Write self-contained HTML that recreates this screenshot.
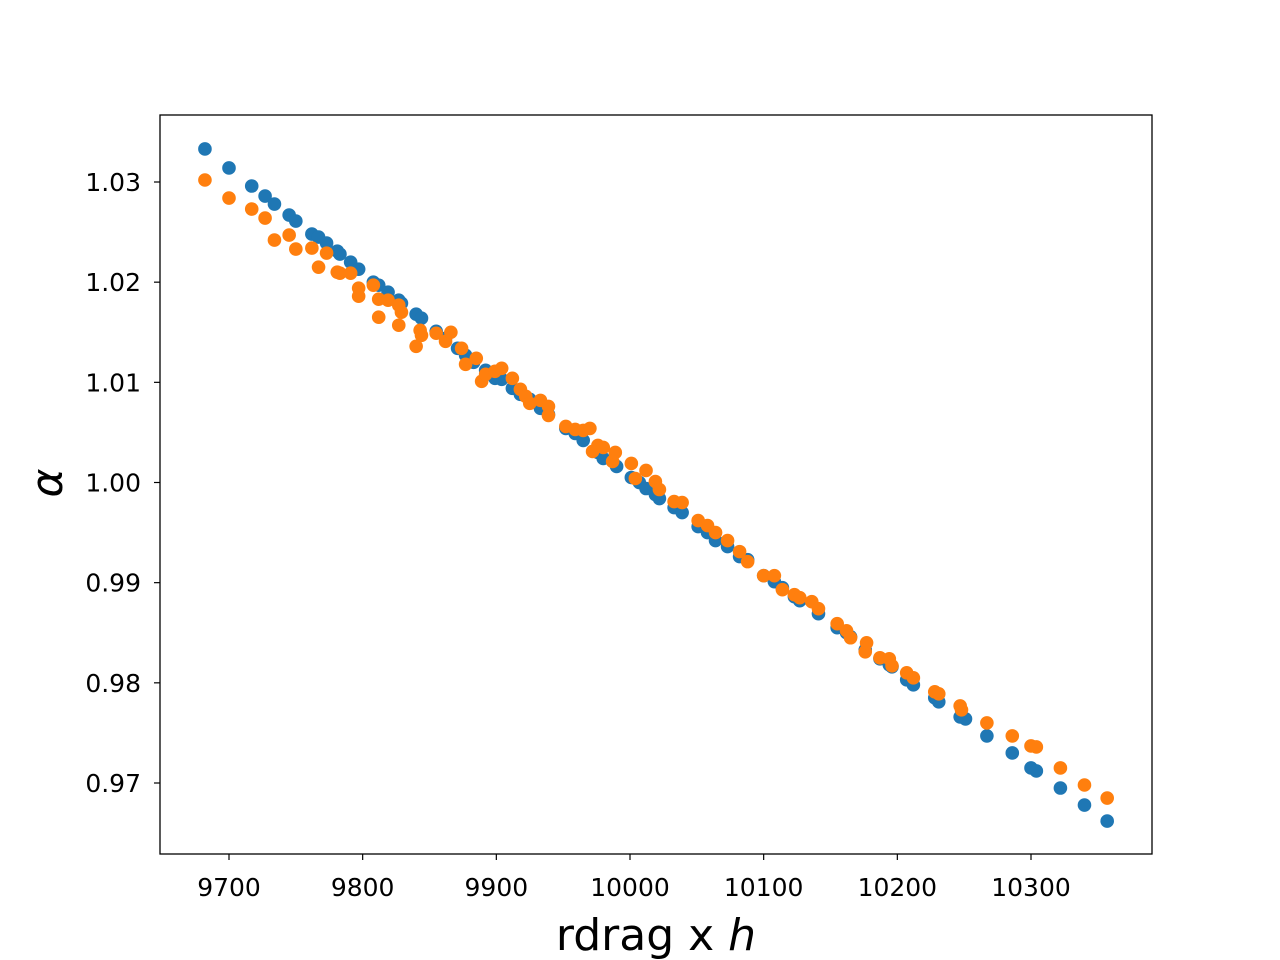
<!DOCTYPE html>
<html><head><meta charset="utf-8"><style>body{margin:0;background:#fff}svg{display:block;font-family:"DejaVu Sans","Liberation Sans",sans-serif}</style></head>
<body>
<svg id="chart" width="1280" height="960" xmlns="http://www.w3.org/2000/svg">
<rect width="1280" height="960" fill="#fff"/>
<g id="marks"></g>
<g id="axes"></g>
</svg>
<script>
const blueX=[9682,9700,9717,9727,9734,9745,9750,9762,9767,9773,9781,9783,9791,9797,9808,9812,9819,9827,9829,9840,9844,9855,9862,9871,9877,9883,9892,9899,9904,9912,9918,9925,9933,9939,9952,9959,9965,9976,9980,9990,10001,10007,10012,10019,10022,10033,10039,10051,10058,10064,10073,10082,10088,10100,10108,10114,10123,10127,10141,10155,10162,10165,10176,10187,10194,10196,10207,10212,10228,10231,10247,10251,10267,10286,10300,10304,10322,10340,10357];
const blueY=[1.0333,1.0314,1.0296,1.0286,1.0278,1.0267,1.0261,1.0248,1.0245,1.0239,1.0231,1.0228,1.0220,1.0213,1.0200,1.0197,1.0190,1.0182,1.0179,1.0168,1.0164,1.0151,1.0144,1.0134,1.0127,1.0120,1.0112,1.0104,1.0103,1.0094,1.0088,1.0083,1.0074,1.0068,1.0054,1.0049,1.0042,1.0030,1.0024,1.0016,1.0005,1.0000,0.9994,0.9988,0.9984,0.9975,0.9970,0.9956,0.9950,0.9942,0.9936,0.9926,0.9923,0.9907,0.9901,0.9895,0.9886,0.9882,0.9869,0.9855,0.9850,0.9846,0.9833,0.9824,0.9818,0.9816,0.9803,0.9798,0.9785,0.9781,0.9766,0.9764,0.9747,0.9730,0.9715,0.9712,0.9695,0.9678,0.9662];
const orangeX=[9682,9700,9717,9727,9734,9745,9750,9762,9767,9773,9781,9783,9791,9797,9797,9808,9812,9812,9819,9827,9827,9829,9840,9843,9844,9855,9862,9866,9874,9877,9885,9889,9892,9899,9904,9912,9918,9922,9925,9933,9939,9939,9952,9959,9965,9970,9976,9972,9980,9987,9989,10001,10004,10012,10019,10022,10033,10039,10051,10058,10064,10073,10082,10088,10100,10108,10114,10123,10127,10136,10141,10155,10162,10165,10176,10177,10187,10194,10196,10207,10212,10228,10231,10247,10248,10267,10286,10300,10304,10322,10340,10357];
const orangeY=[1.0302,1.0284,1.0273,1.0264,1.0242,1.0247,1.0233,1.0234,1.0215,1.0229,1.0210,1.0209,1.0209,1.0194,1.0186,1.0197,1.0183,1.0165,1.0182,1.0177,1.0157,1.0170,1.0136,1.0152,1.0147,1.0149,1.0141,1.0150,1.0134,1.0118,1.0124,1.0101,1.0108,1.0111,1.0114,1.0104,1.0093,1.0086,1.0079,1.0082,1.0076,1.0067,1.0056,1.0053,1.0052,1.0054,1.0037,1.0031,1.0035,1.0021,1.0030,1.0019,1.0004,1.0012,1.0001,0.9993,0.9981,0.9980,0.9962,0.9957,0.9950,0.9942,0.9931,0.9921,0.9907,0.9907,0.9893,0.9888,0.9885,0.9881,0.9874,0.9859,0.9852,0.9845,0.9831,0.9840,0.9825,0.9824,0.9817,0.9810,0.9805,0.9791,0.9789,0.9777,0.9773,0.9760,0.9747,0.9737,0.9736,0.9715,0.9698,0.9685];
const xTicks=[9700,9800,9900,10000,10100,10200,10300];
const yTicks=[0.97,0.98,0.99,1.00,1.01,1.02,1.03];
const yTickLabels=["0.97","0.98","0.99","1.00","1.01","1.02","1.03"];

const L=160,R=1152,T=115,B=854;
const sx=v=>229+(v-9700)*(1031-229)/600;
const sy=v=>182+(1.03-v)*(783-182)/0.06;
const NS="http://www.w3.org/2000/svg";
const marks=document.getElementById('marks'), axes=document.getElementById('axes');
function mk(tag,attrs,parent){const e=document.createElementNS(NS,tag);for(const k in attrs)e.setAttribute(k,attrs[k]);parent.appendChild(e);return e;}
function series(xs,ys,color,name){
  for(let i=0;i<xs.length;i++){
    const c=mk('circle',{cx:sx(xs[i]),cy:sy(ys[i]),r:6.8,fill:color},marks);
    
    
  }
}
series(blueX,blueY,'#1f77b4','blue-point');
series(orangeX,orangeY,'#ff7f0e','orange-point');
const frame=mk('rect',{x:L,y:T,width:R-L,height:B-T,fill:'none',stroke:'#000','stroke-width':1.3},axes);


xTicks.forEach(v=>{
  const x=sx(v);
  mk('line',{x1:x,x2:x,y1:B,y2:B+6,stroke:'#000','stroke-width':1.2},axes);
  const t=mk('text',{x:x,y:B+42,'text-anchor':'middle','font-size':25},axes);
  t.textContent=v;
  
  
});
yTicks.forEach((v,i)=>{
  const y=sy(v);
  mk('line',{x1:L-6,x2:L,y1:y,y2:y,stroke:'#000','stroke-width':1.2},axes);
  const t=mk('text',{x:L-19,y:y+9,'text-anchor':'end','font-size':25},axes);
  t.textContent=yTickLabels[i];
  
  
});
const xl=mk('text',{x:656,y:950,'text-anchor':'middle','font-size':44},axes);
xl.innerHTML='rdrag x <tspan font-style="italic">h</tspan>';


const yl=mk('text',{x:0,y:0,'text-anchor':'middle','font-size':44,'font-style':'italic',transform:'translate(62,483) rotate(-90)'},axes);
yl.textContent='α';


</script>
</body></html>
